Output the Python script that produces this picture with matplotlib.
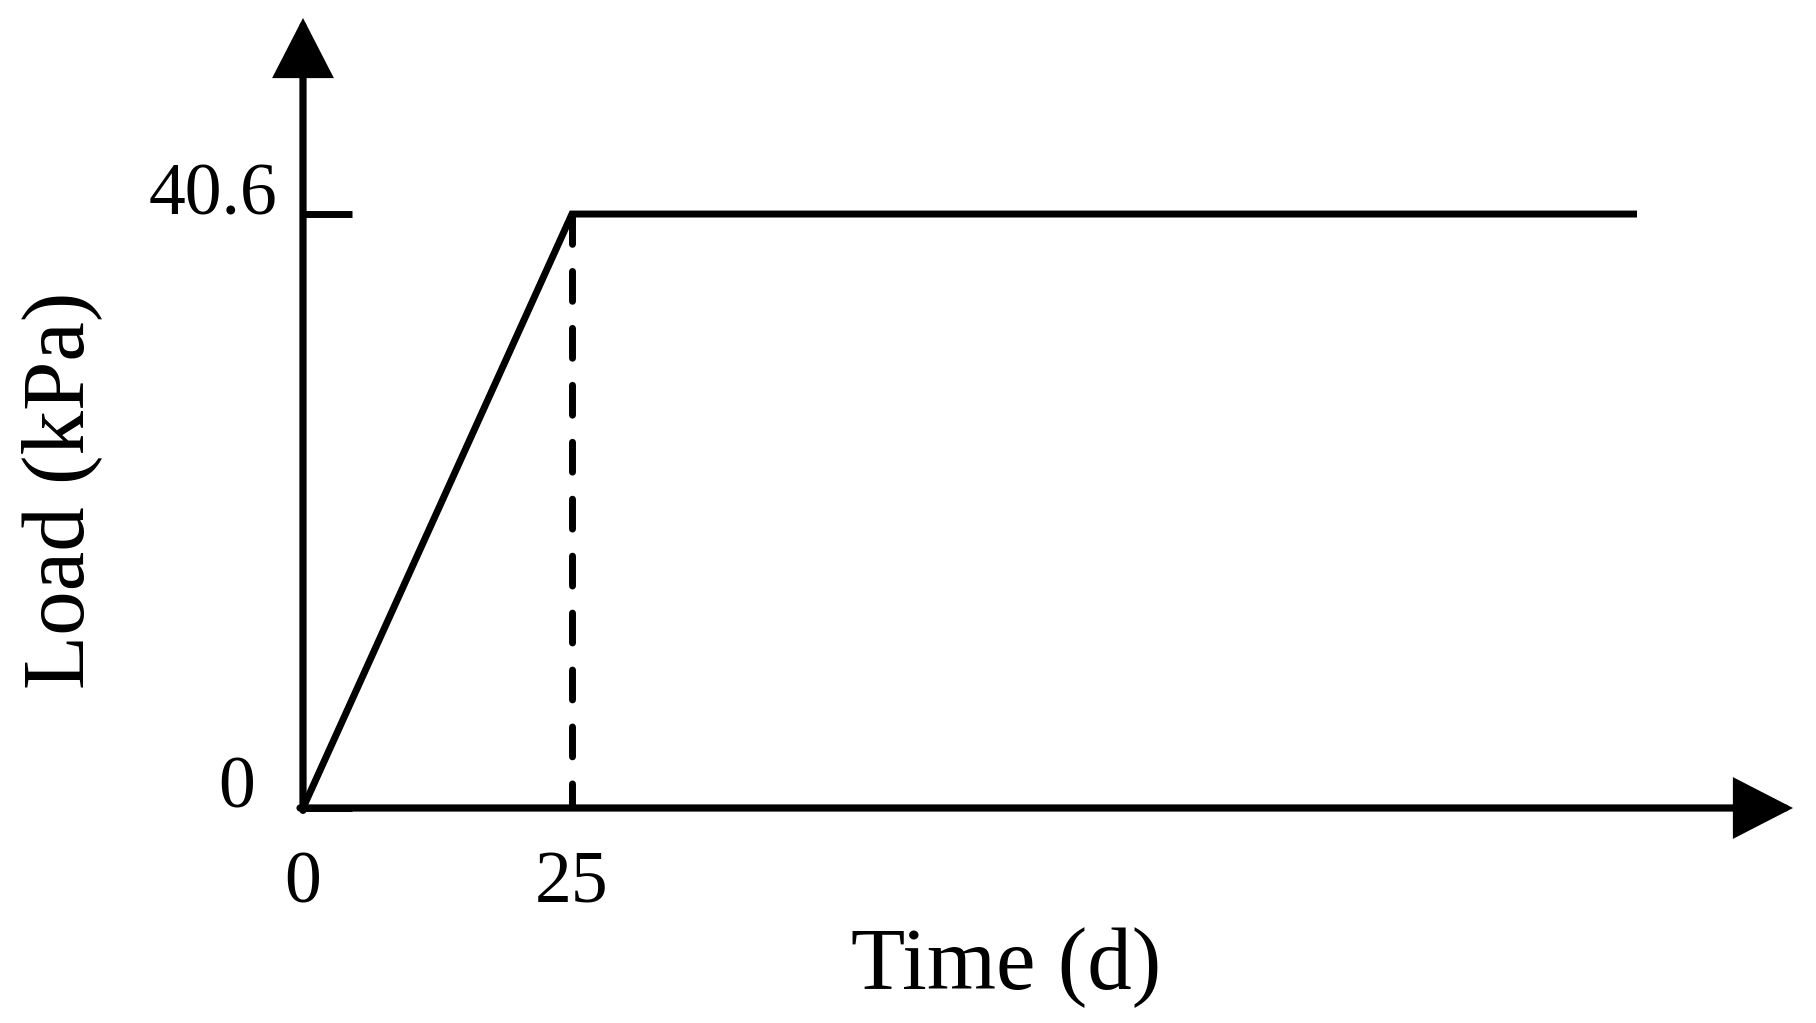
import matplotlib
matplotlib.use("Agg")
import matplotlib.pyplot as plt

# loading history
time_d = [0, 25, 124]
load_kpa = [0, 40.6, 40.6]
ramp_end = 25
x_ticks = [0, 25]
x_tick_labels = ["0", "25"]
y_ticks = [0, 40.6]
y_tick_labels = ["0", "40.6"]
x_max, y_max = 138.5, 54.0

plt.rcParams["font.family"] = ["Liberation Serif", "DejaVu Serif"]

fig = plt.figure(figsize=(18.16, 10.23), dpi=100)
ax = fig.add_axes([303 / 1816, 215 / 1023, 1490 / 1816, 790 / 1023])
ax.set_xlim(0, x_max)
ax.set_ylim(0, y_max)
ax.patch.set_visible(False)
for s in ax.spines.values():
    s.set_visible(False)

# axes drawn as arrows
arrow = dict(arrowstyle="-|>,head_length=0.35,head_width=0.18", lw=5.2, color="k",
             mutation_scale=100, shrinkA=0, shrinkB=0, joinstyle="miter")
ax.annotate("", xy=(1, 0), xytext=(-0.002, 0), xycoords="axes fraction", arrowprops=arrow)
ax.annotate("", xy=(0, 1), xytext=(0, -0.003), xycoords="axes fraction", arrowprops=arrow)

ax.set_xticks([])
ax.set_yticks(y_ticks)
ax.tick_params(axis="y", direction="in", length=35, width=5, color="k", labelleft=False)

ax.plot([ramp_end, ramp_end], [load_kpa[1], 0], color="k", lw=5,
        linestyle=(0, (4.3, 3.9)), dash_capstyle="round")
ax.plot(time_d, load_kpa, color="k", lw=5, solid_joinstyle="miter", solid_capstyle="butt")

for x, lbl in zip(x_ticks, x_tick_labels):
    ax.text(x, -0.119, lbl, transform=ax.get_xaxis_transform(), ha="center", va="baseline", fontsize=53)
for y, lbl, xo in zip(y_ticks, y_tick_labels, [-0.032, -0.017]):
    ax.text(xo, y, lbl, transform=ax.get_yaxis_transform(), ha="right", va="baseline", fontsize=53)

ax.set_xlabel("Time (d)", fontsize=64, va="baseline")
ax.xaxis.set_label_coords(0.472, -0.229)
ax.set_ylabel("Load (kPa)", fontsize=64)
ax.yaxis.set_label_coords(-0.135, 0.4025)

fig.savefig("out.png", dpi=100)
